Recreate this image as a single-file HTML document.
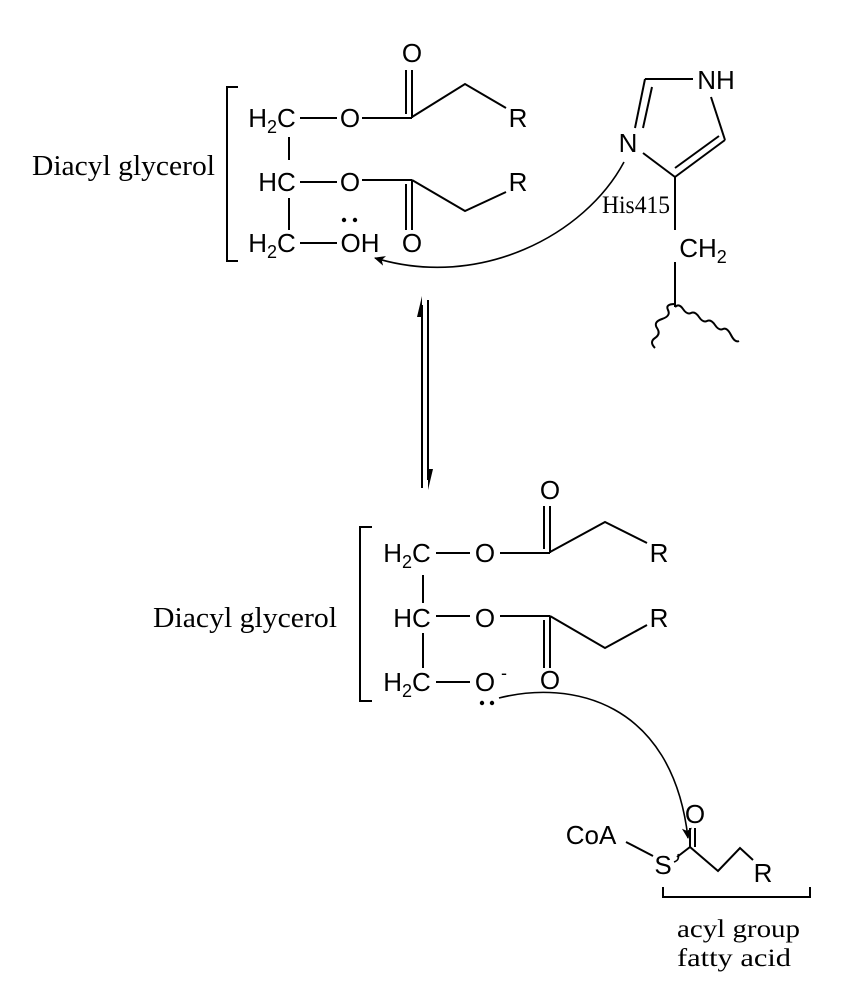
<!DOCTYPE html>
<html><head><meta charset="utf-8"><style>html,body{margin:0;padding:0;background:#fff}svg{display:block}</style></head>
<body>
<svg width="861" height="988" viewBox="0 0 861 988" xmlns="http://www.w3.org/2000/svg">
<defs>
<marker id="ah" markerWidth="12" markerHeight="10" refX="10" refY="5" orient="auto" markerUnits="userSpaceOnUse">
<path d="M0,0 L11,5 L0,10 L3,5 Z" fill="#000"/>
</marker>
</defs>
<g font-family="Liberation Serif, serif" font-size="28" fill="#000">
<text x="32" y="175" textLength="183" lengthAdjust="spacingAndGlyphs">Diacyl glycerol</text>
<text x="153" y="627" textLength="184" lengthAdjust="spacingAndGlyphs">Diacyl glycerol</text>
<text x="602" y="213" font-size="25" textLength="68" lengthAdjust="spacingAndGlyphs">His415</text>
<text x="677" y="937" font-size="25" textLength="123" lengthAdjust="spacingAndGlyphs">acyl group</text>
<text x="677" y="966" font-size="25" textLength="114" lengthAdjust="spacingAndGlyphs">fatty acid</text>
</g>
<g stroke="#000" stroke-width="2" fill="none">
<path d="M238,87 H227 V261 H238"/>
<line x1="300" y1="118" x2="337" y2="118"/>
<line x1="362" y1="118" x2="412" y2="118"/>
<line x1="412" y1="118" x2="412" y2="70"/><line x1="406" y1="114" x2="406" y2="70"/>
<polyline points="412,117 465,84 506,108"/>
<line x1="300" y1="182" x2="337" y2="182"/>
<line x1="362" y1="180" x2="412" y2="180"/>
<line x1="412" y1="180" x2="412" y2="230"/><line x1="406" y1="184" x2="406" y2="230"/>
<polyline points="412,180 465,211 506,192"/>
<line x1="300" y1="243" x2="337" y2="243"/>
<line x1="289" y1="137" x2="289" y2="160"/>
<line x1="289" y1="198" x2="289" y2="230"/>
<line x1="645" y1="79" x2="693" y2="79"/>
<line x1="645" y1="79" x2="635" y2="128"/><line x1="652" y1="87" x2="643" y2="128"/>
<line x1="643" y1="153" x2="675" y2="177"/>
<line x1="675" y1="177" x2="725" y2="140"/><line x1="675" y1="168" x2="719" y2="136"/>
<line x1="725" y1="140" x2="711" y2="97"/>
<line x1="675" y1="177" x2="675" y2="230"/>
<line x1="675" y1="262" x2="675" y2="307"/>
<path d="M655,348 q-6,-6 0,-10 t2,-10 t5,-9 t6,-9 t7,-6"/>
<path d="M675,307 q4,-4 8,2 t8,4 t8,4 t8,4 t8,4 t8,4 t8,6 t8,6"/>
<path d="M624,162 C585,235 480,290 375,258" marker-end="url(#ah)" stroke-width="1.6"/>
<line x1="422" y1="305" x2="422" y2="488"/>
<path d="M422,296 L422,317 L417,317 Z" fill="#000" stroke="none"/>
<line x1="428" y1="300" x2="428" y2="480"/>
<path d="M428,490 L428,469 L433,469 Z" fill="#000" stroke="none"/>
<path d="M372,527 H360 V701 H372"/>
<line x1="436" y1="553" x2="470" y2="553"/>
<line x1="500" y1="553" x2="550" y2="553"/>
<line x1="550" y1="553" x2="550" y2="506"/><line x1="544" y1="549" x2="544" y2="506"/>
<polyline points="550,552 605,522 647,543"/>
<line x1="436" y1="616" x2="470" y2="616"/>
<line x1="500" y1="616" x2="550" y2="616"/>
<line x1="550" y1="616" x2="550" y2="668"/><line x1="544" y1="620" x2="544" y2="668"/>
<polyline points="550,616 605,648 647,625"/>
<line x1="436" y1="682" x2="470" y2="682"/>
<line x1="423" y1="575" x2="423" y2="603"/>
<line x1="423" y1="633" x2="423" y2="668"/>
<path d="M499,698 C570,680 672,700 688,838" marker-end="url(#ah)" stroke-width="1.6"/>
<line x1="626" y1="842" x2="653" y2="856"/>
<line x1="677" y1="857" x2="690" y2="847"/>
<line x1="690" y1="847" x2="690" y2="828"/><line x1="695" y1="847" x2="695" y2="828"/>
<polyline points="690,847 718,871 740,848 753,860"/>
<path d="M674,862 q6,-2 4,-8" stroke-width="1.5"/>
<path d="M663,887 V897 H810 V887"/>
</g>
<g fill="#000">
<circle cx="344" cy="220" r="2.2"/><circle cx="355" cy="220" r="2.2"/>
<circle cx="482" cy="703" r="2.2"/><circle cx="492" cy="703" r="2.2"/>
</g>
<g font-family="Liberation Sans, sans-serif" font-size="26" fill="#000" text-anchor="middle">
<text x="272" y="127">H<tspan font-size="18" dy="6">2</tspan><tspan dy="-6">C</tspan></text>
<text x="350" y="127">O</text>
<text x="412" y="62">O</text>
<text x="518" y="127">R</text>
<text x="277" y="191">HC</text>
<text x="350" y="191">O</text>
<text x="518" y="191">R</text>
<text x="412" y="252">O</text>
<text x="272" y="252">H<tspan font-size="18" dy="6">2</tspan><tspan dy="-6">C</tspan></text>
<text x="360" y="252">OH</text>
<text x="716" y="89">NH</text>
<text x="628" y="152">N</text>
<text x="703" y="257">CH<tspan font-size="18" dy="6">2</tspan></text>
<text x="407" y="562">H<tspan font-size="18" dy="6">2</tspan><tspan dy="-6">C</tspan></text>
<text x="485" y="562">O</text>
<text x="550" y="499">O</text>
<text x="659" y="562">R</text>
<text x="412" y="627">HC</text>
<text x="485" y="627">O</text>
<text x="659" y="627">R</text>
<text x="550" y="689">O</text>
<text x="407" y="691">H<tspan font-size="18" dy="6">2</tspan><tspan dy="-6">C</tspan></text>
<text x="485" y="691">O</text>
<text x="504" y="679" font-size="18">-</text>
<text x="591" y="844">CoA</text>
<text x="663" y="874">S</text>
<text x="695" y="823">O</text>
<text x="763" y="882">R</text>
</g>
</svg>
</body></html>
